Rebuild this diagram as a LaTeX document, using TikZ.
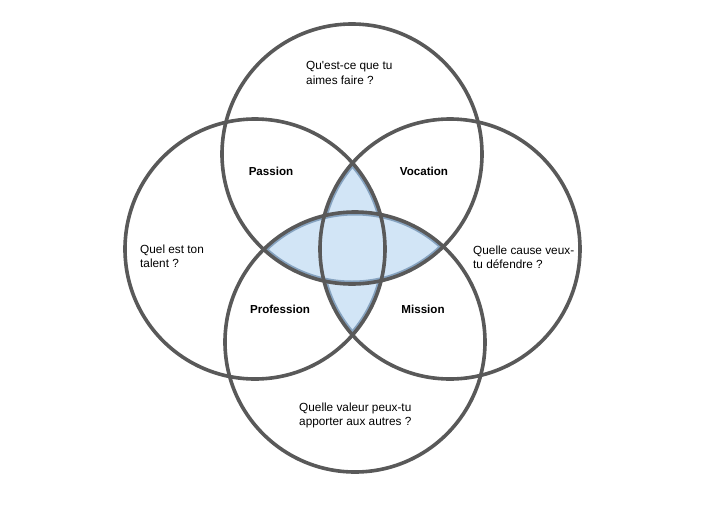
\documentclass[tikz,border=0pt]{standalone}
\usepackage{fontspec}
\setmainfont{Liberation Sans}
\definecolor{ringcol}{HTML}{595959}
\definecolor{shadecol}{HTML}{D2E5F6}
\definecolor{shadeedge}{HTML}{86A3C0}
\begin{document}
\begin{tikzpicture}[x=1pt,y=-1pt,
  ring/.style={draw=ringcol,line width=3.6pt},
  edgering/.style={draw=shadeedge,line width=7pt},
  question/.style={anchor=west,align=left,inner sep=0pt,font=\fontsize{11.8}{14.3}\selectfont},
  zonelabel/.style={inner sep=0pt,font=\bfseries\fontsize{11.6}{14}\selectfont}]
\useasboundingbox[fill=white] (0,0) rectangle (720,509);
\def\R{130}
\coordinate (T) at (352,154);
\coordinate (L) at (255,249);
\coordinate (Rc) at (450,249);
\coordinate (B) at (355,342);
% shaded zone: points inside at least three circles
\begin{scope}
  \clip (L) circle[radius=\R];
  \clip (Rc) circle[radius=\R];
  \clip (T) circle[radius=\R] (B) circle[radius=\R];
  \fill[shadecol] (0,0) rectangle (720,509);
  \draw[edgering] (L) circle[radius=\R] (Rc) circle[radius=\R];
\end{scope}
\begin{scope}
  \clip (T) circle[radius=\R];
  \clip (B) circle[radius=\R];
  \clip (L) circle[radius=\R] (Rc) circle[radius=\R];
  \fill[shadecol] (0,0) rectangle (720,509);
  \draw[edgering] (T) circle[radius=\R] (B) circle[radius=\R];
\end{scope}
% rings
\draw[ring] (T) circle[radius=\R];
\draw[ring] (L) circle[radius=\R];
\draw[ring] (Rc) circle[radius=\R];
\draw[ring] (B) circle[radius=\R];
% texts
\node[question] (qtop) at (306,73) {Qu\textquotesingle est-ce que tu\\aimes faire ?};
\node[question] (qleft) at (140,256.5) {Quel est ton\\talent ?};
\node[question] (qright) at (473,257.5) {Quelle cause veux-\\tu défendre ?};
\node[question] (qbottom) at (299,415.5) {Quelle valeur peux-tu\\apporter aux autres ?};
\node[zonelabel] (passion) at (271,171) {Passion};
\node[zonelabel] (vocation) at (424,171) {Vocation};
\node[zonelabel] (profession) at (280,309) {Profession};
\node[zonelabel] (mission) at (423,309) {Mission};
\end{tikzpicture}
\end{document}
